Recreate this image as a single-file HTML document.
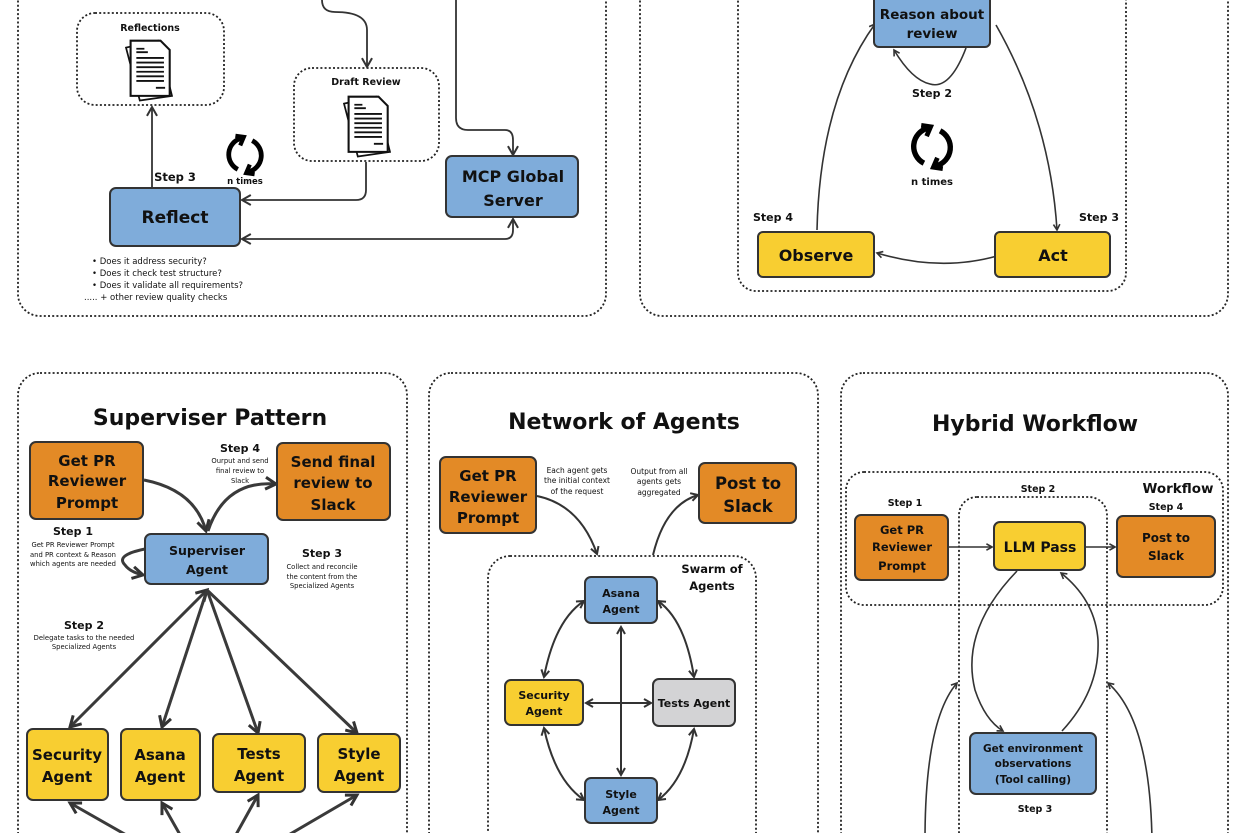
<!DOCTYPE html>
<html><head><meta charset="utf-8"><style>
html,body{margin:0;padding:0;background:#fff;width:1250px;height:833px;overflow:hidden}
text{font-family:"DejaVu Sans","Liberation Sans",sans-serif;font-weight:bold;fill:#111;text-anchor:middle}
.s{font-weight:normal}
</style></head><body>
<svg width="1250" height="833" viewBox="0 0 1250 833" xmlns="http://www.w3.org/2000/svg">
<defs>
<marker id="a" viewBox="0 0 10 10" refX="8" refY="5" markerWidth="7" markerHeight="7" orient="auto-start-reverse"><path d="M1,1 L8,5 L1,9" fill="none" stroke="#333" stroke-width="1.6"/></marker>
<marker id="b" viewBox="0 0 10 10" refX="8" refY="5" markerWidth="5" markerHeight="5" orient="auto-start-reverse"><path d="M1,1 L8,5 L1,9" fill="none" stroke="#333" stroke-width="2"/></marker>
<g id="doc">
<path d="M-20,-16 L8,-22 L20,26 L-8,30 Z" fill="#fff" stroke="#111" stroke-width="1.5"/>
<path d="M-16,-22 L10,-22 L18,-14 L18,26 L-16,26 Z" fill="#fff" stroke="#111" stroke-width="1.8"/>
<path d="M-11,-15h7M-11,-12h10M-11,-7h24M-11,-3h24M-11,1h24M-11,5h24M-11,9h24M-11,13h24M6,19h8" stroke="#111" stroke-width="1.6"/>
</g>
<g id="cyc" fill="none" stroke="#000" stroke-width="4">
<path d="M-3,-14 A14,14 0 0 0 -6,12"/><path d="M3,14 A14,14 0 0 0 6,-12"/>
<path d="M-8,-16 L-1,-15 L-4,-8" stroke-width="3.5"/><path d="M8,16 L1,15 L4,8" stroke-width="3.5"/>
</g>
</defs>
<g fill="none" stroke="#222" stroke-width="1.8" stroke-dasharray="2 2.2">
<rect x="18" y="-30" width="588" height="346" rx="22"/>
<rect x="640" y="-30" width="588" height="346" rx="22"/>
<rect x="738" y="-30" width="388" height="321" rx="18"/>
<rect x="77" y="13" width="147" height="92" rx="18"/>
<rect x="294" y="68" width="145" height="93" rx="18"/>
<rect x="18" y="373" width="389" height="480" rx="22"/>
<rect x="429" y="373" width="389" height="480" rx="22"/>
<rect x="841" y="373" width="387" height="480" rx="22"/>
<rect x="488" y="556" width="268" height="300" rx="22"/>
<rect x="846" y="472" width="377" height="133" rx="18"/>
<rect x="959" y="497" width="148" height="360" rx="18"/>
</g>
<text x="150" y="31" font-size="9.5">Reflections</text>
<text x="366" y="85" font-size="9.5">Draft Review</text>
<use href="#doc" transform="translate(149,66) scale(1.15)"/>
<use href="#doc" transform="translate(367,122) scale(1.15)"/>
<g fill="none" stroke="#333" stroke-width="1.8">
<path d="M152,188 L152,107" marker-end="url(#a)"/>
<path d="M322,0 Q322,12 335,12 Q367,12 367,30 L367,67" marker-end="url(#a)"/>
<path d="M366,162 L366,190 Q366,200 356,200 L242,200" marker-end="url(#a)"/>
<path d="M456,0 L456,118 Q456,130 468,130 L505,130 Q513,130 513,140 L513,155" marker-end="url(#a)"/>
<path d="M242,239 L505,239 Q513,239 513,230 L513,219" marker-start="url(#a)" marker-end="url(#a)"/>
</g>
<rect x="110" y="188" width="130" height="58" rx="6" fill="#7FACDA" stroke="#333" stroke-width="2"/>
<text x="175" y="223" font-size="17">Reflect</text>
<rect x="446" y="156" width="132" height="61" rx="6" fill="#7FACDA" stroke="#333" stroke-width="2"/>
<text x="513" y="182" font-size="16">MCP Global</text>
<text x="513" y="206" font-size="16">Server</text>
<text x="175" y="181" font-size="11.5">Step 3</text>
<use href="#cyc" transform="translate(245,155) scale(1.2)"/>
<text x="245" y="184" font-size="8.5">n times</text>
<g font-size="8.5">
<text x="92" y="264" class="s" style="text-anchor:start">•  Does it address security?</text>
<text x="92" y="276" class="s" style="text-anchor:start">•  Does it check test structure?</text>
<text x="92" y="288" class="s" style="text-anchor:start">•  Does it validate all requirements?</text>
<text x="84" y="300" class="s" style="text-anchor:start">..... + other review quality checks</text>
</g>
<g fill="none" stroke="#333" stroke-width="1.6">
<path d="M966,48 Q950,90 930,84 Q912,80 894,50" marker-end="url(#b)"/>
<path d="M817,230 Q820,100 875,24" marker-end="url(#b)"/>
<path d="M996,25 Q1050,120 1057,230" marker-end="url(#b)"/>
<path d="M997,256 Q940,272 877,253" marker-end="url(#b)"/>
</g>
<rect x="874" y="-6" width="116" height="53" rx="5" fill="#7FACDA" stroke="#333" stroke-width="2"/>
<text x="932" y="19" font-size="13.5">Reason about</text>
<text x="932" y="38" font-size="13.5">review</text>
<text x="932" y="97" font-size="11">Step 2</text>
<use href="#cyc" transform="translate(932,147) scale(1.35)"/>
<text x="932" y="185" font-size="10">n times</text>
<text x="773" y="221" font-size="11">Step 4</text>
<text x="1099" y="221" font-size="11">Step 3</text>
<rect x="758" y="232" width="116" height="45" rx="5" fill="#F8CE31" stroke="#333" stroke-width="2"/>
<text x="816" y="261" font-size="16">Observe</text>
<rect x="995" y="232" width="115" height="45" rx="5" fill="#F8CE31" stroke="#333" stroke-width="2"/>
<text x="1053" y="261" font-size="16">Act</text>
<text x="210" y="425" font-size="22">Superviser Pattern</text>
<g fill="none" stroke="#3a3a3a" stroke-width="3">
<path d="M144,480 Q195,490 206,531" marker-end="url(#b)"/>
<path d="M208,531 Q225,480 276,484" marker-end="url(#b)"/>
<path d="M145,549 Q115,555 125,565 Q130,572 143,575" marker-end="url(#b)"/>
<path d="M207,590 L70,727" marker-start="url(#b)" marker-end="url(#b)"/>
<path d="M207,590 L162,727" marker-end="url(#b)"/>
<path d="M207,590 L258,733" marker-end="url(#b)"/>
<path d="M207,590 L357,733" marker-end="url(#b)"/>
<path d="M135,840 L70,803" marker-end="url(#b)"/>
<path d="M183,840 L162,803" marker-end="url(#b)"/>
<path d="M233,840 L258,795" marker-end="url(#b)"/>
<path d="M280,840 L357,795" marker-end="url(#b)"/>
</g>
<rect x="30" y="442" width="113" height="77" rx="6" fill="#E38A26" stroke="#333" stroke-width="2"/>
<text x="87" y="466" font-size="15">Get PR</text><text x="87" y="486" font-size="15">Reviewer</text><text x="87" y="508" font-size="15">Prompt</text>
<rect x="277" y="443" width="113" height="77" rx="6" fill="#E38A26" stroke="#333" stroke-width="2"/>
<text x="333" y="467" font-size="15">Send final</text><text x="333" y="488" font-size="15">review to</text><text x="333" y="510" font-size="15">Slack</text>
<rect x="145" y="534" width="123" height="50" rx="6" fill="#7FACDA" stroke="#333" stroke-width="2"/>
<text x="207" y="555" font-size="12.5">Superviser</text><text x="207" y="574" font-size="12.5">Agent</text>
<text x="240" y="452" font-size="11">Step 4</text>
<g font-size="6.8"><text class="s" x="240" y="463">Ourput and send</text><text class="s" x="240" y="473">final review to</text><text class="s" x="240" y="483">Slack</text></g>
<text x="73" y="535" font-size="11">Step 1</text>
<g font-size="6.8"><text class="s" x="73" y="547">Get PR Reviewer Prompt</text><text class="s" x="73" y="557">and PR context &amp; Reason</text><text class="s" x="73" y="566">which agents are needed</text></g>
<text x="322" y="557" font-size="11">Step 3</text>
<g font-size="6.8"><text class="s" x="322" y="569">Collect and reconcile</text><text class="s" x="322" y="579">the content from the</text><text class="s" x="322" y="588">Specialized Agents</text></g>
<text x="84" y="629" font-size="11">Step 2</text>
<g font-size="6.8"><text class="s" x="84" y="640">Delegate tasks to the needed</text><text class="s" x="84" y="649">Specialized Agents</text></g>
<g stroke="#333" stroke-width="2" fill="#F8CE31">
<rect x="27" y="729" width="81" height="71" rx="6"/><rect x="121" y="729" width="79" height="71" rx="6"/>
<rect x="213" y="734" width="92" height="58" rx="6"/><rect x="318" y="734" width="82" height="58" rx="6"/>
</g>
<g font-size="15"><text x="67" y="760">Security</text><text x="67" y="782">Agent</text>
<text x="160" y="760">Asana</text><text x="160" y="782">Agent</text>
<text x="259" y="759">Tests</text><text x="259" y="781">Agent</text>
<text x="359" y="759">Style</text><text x="359" y="781">Agent</text></g>
<text x="624" y="429" font-size="22">Network of Agents</text>
<g fill="none" stroke="#333" stroke-width="2">
<path d="M537,496 Q580,505 597,554" marker-end="url(#b)"/>
<path d="M653,555 Q665,505 698,495" marker-end="url(#b)"/>
<path d="M584,601 Q555,620 544,677" marker-start="url(#b)" marker-end="url(#b)"/>
<path d="M658,601 Q685,620 694,677" marker-start="url(#b)" marker-end="url(#b)"/>
<path d="M544,728 Q555,780 584,800" marker-start="url(#b)" marker-end="url(#b)"/>
<path d="M694,729 Q685,780 658,800" marker-start="url(#b)" marker-end="url(#b)"/>
<path d="M621,627 L621,775" marker-start="url(#b)" marker-end="url(#b)"/>
<path d="M586,703 L651,703" marker-start="url(#b)" marker-end="url(#b)"/>
</g>
<rect x="440" y="457" width="96" height="76" rx="6" fill="#E38A26" stroke="#333" stroke-width="2"/>
<text x="488" y="481" font-size="15">Get PR</text><text x="488" y="502" font-size="15">Reviewer</text><text x="488" y="523" font-size="15">Prompt</text>
<rect x="699" y="463" width="97" height="60" rx="6" fill="#E38A26" stroke="#333" stroke-width="2"/>
<text x="748" y="489" font-size="16.5">Post to</text><text x="748" y="512" font-size="16.5">Slack</text>
<g font-size="7.5"><text class="s" x="577" y="473">Each agent gets</text><text class="s" x="577" y="483">the initial context</text><text class="s" x="577" y="494">of the request</text>
<text class="s" x="659" y="474">Output from all</text><text class="s" x="659" y="484">agents gets</text><text class="s" x="659" y="495">aggregated</text></g>
<text x="712" y="573" font-size="11.5">Swarm of</text><text x="712" y="590" font-size="11.5">Agents</text>
<rect x="585" y="577" width="72" height="46" rx="6" fill="#7FACDA" stroke="#333" stroke-width="2"/>
<text x="621" y="597" font-size="11">Asana</text><text x="621" y="613" font-size="11">Agent</text>
<rect x="505" y="680" width="78" height="45" rx="6" fill="#F8CE31" stroke="#333" stroke-width="2"/>
<text x="544" y="699" font-size="11">Security</text><text x="544" y="715" font-size="11">Agent</text>
<rect x="653" y="679" width="82" height="47" rx="6" fill="#D3D3D5" stroke="#333" stroke-width="2"/>
<text x="694" y="707" font-size="11">Tests Agent</text>
<rect x="585" y="778" width="72" height="45" rx="6" fill="#7FACDA" stroke="#333" stroke-width="2"/>
<text x="621" y="798" font-size="11">Style</text><text x="621" y="814" font-size="11">Agent</text>
<text x="1035" y="431" font-size="22">Hybrid Workflow</text>
<text x="1178" y="493" font-size="13.5">Workflow</text>
<text x="1038" y="492" font-size="9.5">Step 2</text>
<text x="905" y="506" font-size="9.5">Step 1</text>
<text x="1166" y="510" font-size="9.5">Step 4</text>
<text x="1035" y="812" font-size="9.5">Step 3</text>
<g fill="none" stroke="#333" stroke-width="1.6">
<path d="M949,547 L992,547" marker-end="url(#b)"/>
<path d="M1086,547 L1115,547" marker-end="url(#b)"/>
<path d="M1017,571 Q960,630 975,690 Q985,720 1003,731" marker-end="url(#b)"/>
<path d="M1062,731 Q1100,690 1098,640 Q1095,600 1061,573" marker-end="url(#b)"/>
<path d="M925,840 Q925,720 957,683" marker-end="url(#b)"/>
<path d="M1152,840 Q1150,720 1108,683" marker-end="url(#b)"/>
</g>
<rect x="855" y="515" width="93" height="65" rx="6" fill="#E38A26" stroke="#333" stroke-width="2"/>
<text x="902" y="534" font-size="11.5">Get PR</text><text x="902" y="551" font-size="11.5">Reviewer</text><text x="902" y="570" font-size="11.5">Prompt</text>
<rect x="994" y="522" width="91" height="48" rx="6" fill="#F8CE31" stroke="#333" stroke-width="2"/>
<text x="1040" y="552" font-size="14">LLM Pass</text>
<rect x="1117" y="516" width="98" height="61" rx="6" fill="#E38A26" stroke="#333" stroke-width="2"/>
<text x="1166" y="542" font-size="12">Post to</text><text x="1166" y="560" font-size="12">Slack</text>
<rect x="970" y="733" width="126" height="61" rx="6" fill="#7FACDA" stroke="#333" stroke-width="2"/>
<text x="1033" y="752" font-size="10.5">Get environment</text><text x="1033" y="767" font-size="10.5">observations</text><text x="1033" y="783" font-size="10.5">(Tool calling)</text>
</svg>
</body></html>
